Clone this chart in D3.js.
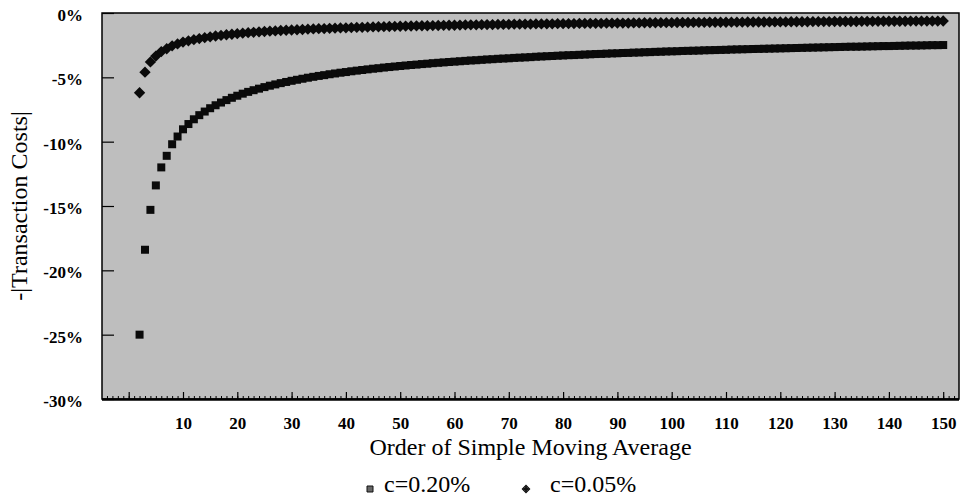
<!DOCTYPE html>
<html>
<head>
<meta charset="utf-8">
<script src="https://cdn.jsdelivr.net/npm/d3@7"></script>
<style>
  html, body { margin: 0; padding: 0; background: #ffffff; }
  svg { display: block; }
  text { font-family: 'Liberation Serif', 'Times New Roman', serif; fill: #000; }
</style>
</head>
<body>
<svg id="chart" width="961" height="496"></svg>
<script>
// ---- data ----
const seriesNames = ["c=0.20%", "c=0.05%"];
const firstOrder = 2, lastOrder = 150;
// |transaction costs| in %, for SMA orders 2..150
const cost020 = [25.0,18.4,15.3,13.4,12.0,11.1,10.2,9.6,
  9.04,8.63,8.26,7.94,7.66,7.40,7.17,6.96,6.77,6.59,
  6.43,6.27,6.13,6.00,5.88,5.76,5.65,5.55,5.45,5.36,
  5.27,5.19,5.11,5.03,4.96,4.89,4.83,4.76,4.70,4.64,
  4.59,4.53,4.48,4.43,4.38,4.33,4.29,4.24,4.20,4.16,
  4.12,4.08,4.04,4.01,3.97,3.94,3.90,3.87,3.84,3.81,
  3.78,3.75,3.72,3.69,3.67,3.64,3.61,3.59,3.56,3.54,
  3.52,3.49,3.47,3.45,3.43,3.40,3.38,3.36,3.34,3.32,
  3.30,3.28,3.27,3.25,3.23,3.21,3.19,3.18,3.16,3.14,
  3.13,3.11,3.10,3.08,3.07,3.05,3.04,3.02,3.01,2.99,
  2.98,2.97,2.95,2.94,2.93,2.92,2.90,2.89,2.88,2.87,
  2.86,2.84,2.83,2.82,2.81,2.80,2.79,2.78,2.77,2.76,
  2.75,2.74,2.73,2.72,2.71,2.70,2.69,2.68,2.67,2.66,
  2.65,2.64,2.63,2.62,2.62,2.61,2.60,2.59,2.58,2.57,
  2.57,2.56,2.55,2.54,2.53,2.53,2.52,2.51,2.50,2.50,2.49];
const cost005 = [6.20,4.60,3.80,3.35,3.00,2.78,2.55,2.40,
  2.26,2.16,2.07,1.99,1.92,1.85,1.79,1.74,1.69,1.65,
  1.61,1.57,1.53,1.50,1.47,1.44,1.41,1.39,1.36,1.34,
  1.32,1.30,1.28,1.26,1.24,1.22,1.21,1.19,1.18,1.16,
  1.15,1.13,1.12,1.11,1.10,1.08,1.07,1.06,1.05,1.04,
  1.03,1.02,1.01,1.00,0.99,0.99,0.98,0.97,0.96,0.95,
  0.95,0.94,0.93,0.92,0.92,0.91,0.90,0.90,0.89,0.89,
  0.88,0.87,0.87,0.86,0.86,0.85,0.85,0.84,0.84,0.83,
  0.83,0.82,0.82,0.81,0.81,0.80,0.80,0.80,0.79,0.79,
  0.78,0.78,0.78,0.77,0.77,0.76,0.76,0.76,0.75,0.75,
  0.75,0.74,0.74,0.74,0.73,0.73,0.73,0.72,0.72,0.72,
  0.72,0.71,0.71,0.71,0.70,0.70,0.70,0.70,0.69,0.69,
  0.69,0.69,0.68,0.68,0.68,0.68,0.67,0.67,0.67,0.67,
  0.66,0.66,0.66,0.66,0.66,0.65,0.65,0.65,0.65,0.64,
  0.64,0.64,0.64,0.64,0.63,0.63,0.63,0.63,0.63,0.63,0.62];
const xTickLabels = [10,20,30,40,50,60,70,80,90,100,110,120,130,140,150];
const yTickValues = [0,-5,-10,-15,-20,-25,-30];
const xTitle = "Order of Simple Moving Average";
const yTitle = "-|Transaction Costs|";

// ---- layout ----
const svg = d3.select("#chart");
const plot = { left: 102, right: 959, top: 13, bottom: 399 };

const orders = d3.range(firstOrder, lastOrder + 1);
const x = d3.scaleLinear().domain([0, 150]).range([128.7, 943.2]);
const y = d3.scaleLinear().domain([-30, 0]).range([plot.bottom, plot.top]);

// plot background
svg.append("rect")
  .attr("x", plot.left).attr("y", plot.top)
  .attr("width", plot.right - plot.left).attr("height", plot.bottom - plot.top)
  .attr("fill", "#bebebe");

// minor x ticks (every unit), inward
const xMin = Math.ceil(x.invert(plot.left + 1)), xMax = Math.floor(x.invert(plot.right - 1));
const minorAxis = d3.axisBottom(x).tickValues(d3.range(xMin, xMax + 1)).tickSize(-3).tickFormat("");
svg.append("g").attr("transform", `translate(0,${plot.bottom})`).call(minorAxis)
  .call(g => g.select(".domain").remove())
  .call(g => g.selectAll("line").attr("stroke", "#000").attr("stroke-width", 1));

// major x ticks + labels
const majorAxis = d3.axisBottom(x).tickValues([0].concat(xTickLabels)).tickSize(-7).tickPadding(18)
  .tickFormat(d => d === 0 ? "" : String(d));
svg.append("g").attr("transform", `translate(0,${plot.bottom})`).call(majorAxis)
  .call(g => g.select(".domain").remove())
  .call(g => g.selectAll("line").attr("stroke", "#000").attr("stroke-width", 1.2))
  .call(g => g.selectAll("text").attr("font-size", 17).attr("font-weight", "bold").attr("fill", "#000"));

// y axis, inward ticks
const yAxis = d3.axisLeft(y).tickValues(yTickValues).tickSize(-12).tickPadding(19)
  .tickFormat(d => `${d}%`);
svg.append("g").attr("transform", `translate(${plot.left},0)`).call(yAxis)
  .call(g => g.select(".domain").remove())
  .call(g => g.selectAll("line").attr("stroke", "#000").attr("stroke-width", 1.2))
  .call(g => g.selectAll("text").attr("font-size", 17).attr("font-weight", "bold")
    .attr("dy", "0.45em").attr("fill", "#000"));

// frame
svg.append("rect")
  .attr("x", plot.left).attr("y", plot.top)
  .attr("width", plot.right - plot.left).attr("height", plot.bottom - plot.top)
  .attr("fill", "none").attr("stroke", "#000").attr("stroke-width", 1.5);
svg.append("line")
  .attr("x1", plot.left).attr("x2", plot.right)
  .attr("y1", plot.bottom + 0.5).attr("y2", plot.bottom + 0.5)
  .attr("stroke", "#000").attr("stroke-width", 2.5);

// markers
const squarePath = d3.symbol().type(d3.symbolSquare).size(64)();
const diamondPath = d3.symbol().type(d3.symbolSquare).size(64)();

svg.append("g").selectAll("path")
  .data(orders.map((n, i) => ({ n, v: -cost020[i] })))
  .join("path")
  .attr("d", squarePath)
  .attr("transform", d => `translate(${x(d.n)},${y(d.v)})`)
  .attr("fill", "#0a0a0a");

svg.append("g").selectAll("path")
  .data(orders.map((n, i) => ({ n, v: -cost005[i] })))
  .join("path")
  .attr("d", diamondPath)
  .attr("transform", d => `translate(${x(d.n)},${y(d.v)}) rotate(45)`)
  .attr("fill", "#0a0a0a");

// axis titles
svg.append("text")
  .attr("x", (plot.left + plot.right) / 2).attr("y", 455)
  .attr("text-anchor", "middle").attr("font-size", 24)
  .text(xTitle);

svg.append("text")
  .attr("transform", `translate(27,${(plot.top + plot.bottom) / 2}) rotate(-90)`)
  .attr("text-anchor", "middle").attr("font-size", 24)
  .text(yTitle);

// legend
const legendItems = [
  { name: seriesNames[0], mx: 370, tx: 384, shape: "square" },
  { name: seriesNames[1], mx: 526, tx: 550, shape: "diamond" }
];
const lg = svg.append("g");
legendItems.forEach(it => {
  if (it.shape === "square") {
    lg.append("path").attr("d", d3.symbol().type(d3.symbolSquare).size(36)())
      .attr("transform", `translate(${it.mx},489)`)
      .attr("fill", "#666").attr("stroke", "#111").attr("stroke-width", 1);
  } else {
    lg.append("path").attr("d", d3.symbol().type(d3.symbolSquare).size(28)())
      .attr("transform", `translate(${it.mx},489) rotate(45)`)
      .attr("fill", "#666").attr("stroke", "#111").attr("stroke-width", 1);
    lg.append("path").attr("d", d3.symbol().type(d3.symbolCross).size(16)())
      .attr("transform", `translate(${it.mx},489)`)
      .attr("fill", "#111");
  }
  lg.append("text").attr("x", it.tx).attr("y", 492).attr("font-size", 24).text(it.name);
});
</script>
</body>
</html>
